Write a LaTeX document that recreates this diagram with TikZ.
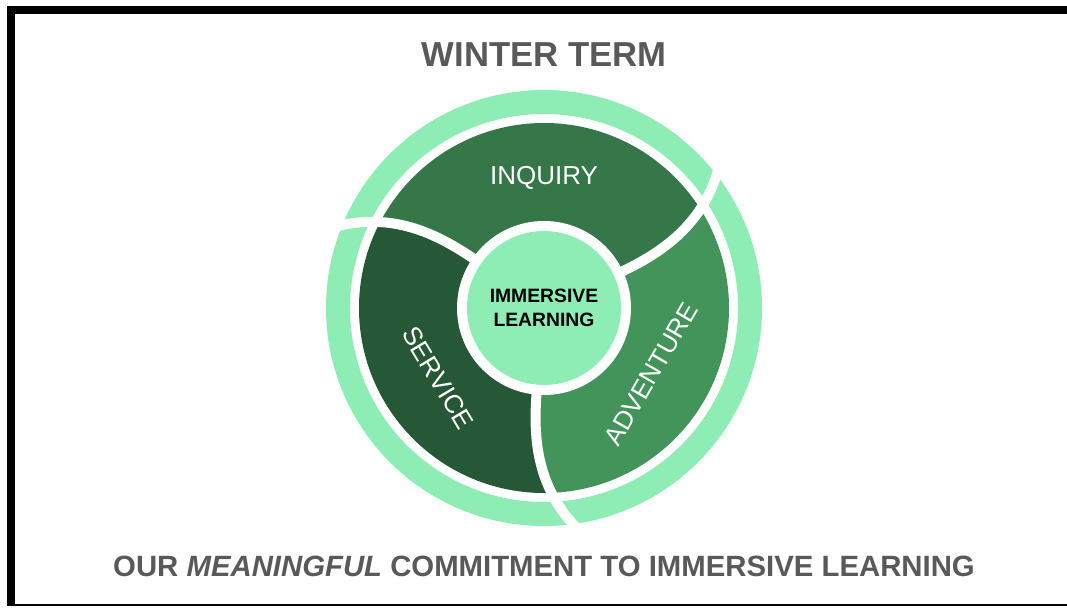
\documentclass[tikz,border=0pt]{standalone}
\usepackage{fontspec}
\setmainfont{Liberation Sans}
\usetikzlibrary{calc}
\definecolor{ringgreen}{HTML}{8DEDB5}
\definecolor{inquirygreen}{HTML}{36774A}
\definecolor{servicegreen}{HTML}{265736}
\definecolor{adventuregreen}{HTML}{43945A}
\definecolor{textgray}{HTML}{595959}

\begin{document}
\begin{tikzpicture}[
    x=0.75pt, y=0.75pt,
    heading/.style={text=textgray, font=\bfseries\fontsize{26}{30}\selectfont},
    segtext/.style={text=white, font=\fontsize{19.5}{23}\selectfont},
    core/.style={circle, fill=ringgreen, minimum size=115.5pt, inner sep=0pt, align=center, font=\bfseries\fontsize{14.5}{18}\selectfont},
    divider/.style={white, line width=7.5pt},
]
\useasboundingbox (0,0) rectangle (1067,607);

% Frame
\fill (7,593) rectangle (1067,601);
\fill (7,1.5) rectangle (15,601);
\draw[line width=0.9pt] (7,2) -- (1067,2);

% Wheel
\coordinate (hub) at (544,299);
\draw[ringgreen, line width=18pt] (hub) circle (206);
\begin{scope}[shift={(hub)}]
  \clip (0,0) circle (185);
  \foreach \a/\col in {25/inquirygreen,145/servicegreen,265/adventuregreen}
    \fill[\col] (0,0) -- plot[domain=80:200,samples=30] ({\a+13*((\x-80)/140)^2}:{\x})
      arc[start angle=\a+9.551, end angle=\a+129.551, radius=200]
      -- plot[domain=200:80,samples=30] ({\a+120+13*((\x-80)/140)^2}:{\x}) -- cycle;
\end{scope}
\fill[white] (hub) circle (87);
\begin{scope}[shift={(hub)}]
  \foreach \a in {25,145,265}
    \draw[divider] plot[domain=85:228,samples=30] ({\a+13*((\x-80)/140)^2}:{\x});
\end{scope}

% Nodes
\node[core] (center) at (hub) {IMMERSIVE\\LEARNING};
\node[segtext] (inquiry) at ($(hub)+(0,130)$) {INQUIRY};
\node[segtext, rotate=-59] (service) at ($(hub)+(-106,-70)$) {SERVICE};
\node[segtext, rotate=60] (adventure) at ($(hub)+(107,-66)$) {ADVENTURE};
\node[heading] (title) at (544,552) {WINTER TERM};
\node[heading, font=\bfseries\fontsize{22}{26}\selectfont] (motto) at (544,41) {OUR \textit{MEANINGFUL} COMMITMENT TO IMMERSIVE LEARNING};

\end{tikzpicture}
\end{document}
